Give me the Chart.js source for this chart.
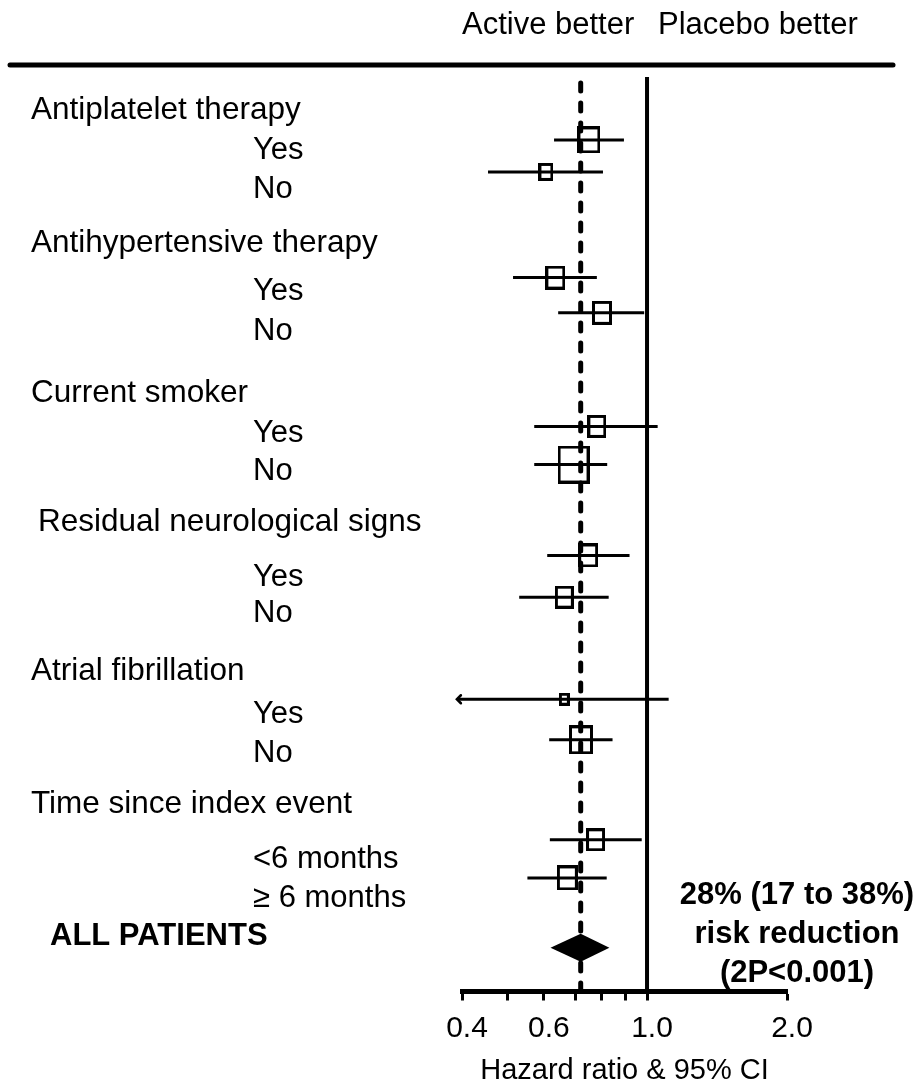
<!DOCTYPE html>
<html>
<head>
<meta charset="utf-8">
<script src="https://cdn.jsdelivr.net/npm/chart.js@4.4.1/dist/chart.umd.min.js"></script>
<style>
  html, body { margin: 0; padding: 0; background: #fff; }
  #wrap { width: 924px; height: 1086px; position: relative; }
</style>
</head>
<body>
<div id="wrap"><canvas id="forest" width="924" height="1086"></canvas></div>
<script>
// ---- Subgroup estimates (hazard ratio with 95% CI) ----
const subgroupNames = [
  'Antiplatelet therapy: Yes', 'Antiplatelet therapy: No',
  'Antihypertensive therapy: Yes', 'Antihypertensive therapy: No',
  'Current smoker: Yes', 'Current smoker: No',
  'Residual neurological signs: Yes', 'Residual neurological signs: No',
  'Atrial fibrillation: Yes', 'Atrial fibrillation: No',
  'Time since index event: <6 months', 'Time since index event: >=6 months'
];
const hazardRatio = [0.750, 0.606, 0.635, 0.800, 0.780, 0.695, 0.747, 0.664, 0.664, 0.721, 0.775, 0.674];
const ciLower     = [0.631, 0.455, 0.515, 0.644, 0.572, 0.572, 0.610, 0.531, 0.390, 0.616, 0.618, 0.553];
const ciUpper     = [0.892, 0.804, 0.780, 0.986, 1.054, 0.821, 0.917, 0.827, 1.113, 0.843, 0.974, 0.819];
// relative weight of each subgroup (drives box size)
const subgroupWeight = [20, 12, 17, 17, 16, 29, 17, 16, 8, 21, 16, 18];
// vertical row of each subgroup estimate
const subgroupRow = [1.75, 2.64, 5.58, 6.56, 9.72, 10.78, 13.31, 14.47, 17.31, 18.44, 21.22, 22.28];

// ---- Overall estimate: 28% (17 to 38%) risk reduction ----
const overallHR = 0.72;
const overallLower = 0.62;
const overallUpper = 0.83;
const overallRow = 24.22;

// ---- Row labels ----
const groupLabels = ['Antiplatelet therapy', 'Antihypertensive therapy', 'Current smoker',
  'Residual neurological signs', 'Atrial fibrillation', 'Time since index event'];
const groupRows = [0.92, 4.62, 8.80, 12.40, 16.52, 20.22];
const levelLabels = ['Yes', 'No', 'Yes', 'No', 'Yes', 'No', 'Yes', 'No', 'Yes', 'No', '<6 months', '\u2265 6 months'];
const levelRows = [2.04, 3.14, 5.97, 7.08, 9.92, 10.96, 13.92, 14.92, 17.74, 18.83, 21.76, 22.84];
const overallLabel = 'ALL PATIENTS';
const overallLabelRow = 23.90;
const summaryLines = ['28% (17 to 38%)', 'risk reduction', '(2P<0.001)'];

// ---- Axis ----
const xTicks = [0.4, 0.5, 0.6, 0.7, 0.8, 0.9, 1.0, 2.0];
const xTickLabels = ['0.4', '', '0.6', '', '', '', '1.0', '2.0'];
const xTitle = 'Hazard ratio & 95% CI';
const headerLeft = 'Active better';
const headerRight = 'Placebo better';

const ROW_MAX = 25.44;
const FONT = "'Liberation Sans', Arial, Helvetica, sans-serif";

// hollow box markers, slightly taller than wide
function makeBox(w) {
  const h = Math.round(w * 1.22);
  const c = document.createElement('canvas');
  c.width = w + 3; c.height = h + 3;
  const g = c.getContext('2d');
  g.strokeStyle = '#000';
  g.lineWidth = 3;
  g.strokeRect(1.5, 1.5, w, h);
  return c;
}
const boxImages = subgroupWeight.map(makeBox);

const datasets = [];
// line of no effect
datasets.push({
  type: 'line', data: [{ x: 1, y: 0 }, { x: 1, y: ROW_MAX }],
  borderColor: '#000', borderWidth: 4, pointRadius: 0, clip: false, order: 5
});
// overall effect (dashed)
datasets.push({
  type: 'line', data: [{ x: overallHR, y: 0.17 }, { x: overallHR, y: ROW_MAX }],
  borderColor: '#000', borderWidth: 5, borderDash: [8, 12], borderCapStyle: 'round',
  pointRadius: 0, clip: false, order: 4
});
// confidence intervals
hazardRatio.forEach((_, i) => {
  datasets.push({
    type: 'line', data: [{ x: ciLower[i], y: subgroupRow[i] }, { x: ciUpper[i], y: subgroupRow[i] }],
    borderColor: '#000', borderWidth: 3, pointRadius: 0, clip: false, order: 3
  });
});
// point estimates
datasets.push({
  type: 'scatter',
  data: hazardRatio.map((v, i) => ({ x: v, y: subgroupRow[i] })),
  pointStyle: ctx => boxImages[ctx.dataIndex],
  pointRadius: 6, clip: false, order: 1
});

const annotate = {
  id: 'annotate',
  afterDatasetsDraw(chart) {
    const { ctx } = chart;
    const xs = chart.scales.x, ys = chart.scales.y;
    ctx.save();

    // arrow for intervals that run past the axis minimum
    ciLower.forEach((lo, i) => {
      if (lo < xs.min) {
        const px = xs.getPixelForValue(lo), py = ys.getPixelForValue(subgroupRow[i]);
        ctx.strokeStyle = '#000'; ctx.lineWidth = 2.5; ctx.lineCap = 'round';
        ctx.beginPath();
        ctx.moveTo(px + 4, py - 4); ctx.lineTo(px, py); ctx.lineTo(px + 4, py + 4);
        ctx.stroke();
      }
    });

    // overall diamond
    const dl = xs.getPixelForValue(overallLower), dr = xs.getPixelForValue(overallUpper);
    const dc = xs.getPixelForValue(overallHR), dy = ys.getPixelForValue(overallRow);
    ctx.fillStyle = '#000';
    ctx.beginPath();
    ctx.moveTo(dl, dy); ctx.lineTo(dc, dy - 14); ctx.lineTo(dr, dy); ctx.lineTo(dc, dy + 14);
    ctx.closePath(); ctx.fill();

    // row labels
    ctx.fillStyle = '#000';
    ctx.textBaseline = 'middle';
    ctx.textAlign = 'left';
    ctx.font = '31.5px ' + FONT;
    groupLabels.forEach((t, i) => {
      const x = t.startsWith('Residual') ? 38 : 31;
      ctx.fillText(t, x, ys.getPixelForValue(groupRows[i]));
    });
    ctx.font = '31px ' + FONT;
    levelLabels.forEach((t, i) => {
      ctx.fillText(t, 253, ys.getPixelForValue(levelRows[i]));
    });
    ctx.font = 'bold 31px ' + FONT;
    ctx.fillText(overallLabel, 50, ys.getPixelForValue(overallLabelRow));

    // summary of overall effect
    ctx.textAlign = 'center';
    ctx.font = 'bold 31px ' + FONT;
    summaryLines.forEach((t, i) => ctx.fillText(t, 797, 895 + i * 39));

    // header band
    ctx.textAlign = 'left';
    ctx.textBaseline = 'alphabetic';
    ctx.font = '31px ' + FONT;
    ctx.fillText(headerLeft, 462, 34);
    ctx.fillText(headerRight, 658, 34);
    ctx.strokeStyle = '#000'; ctx.lineWidth = 5; ctx.lineCap = 'round';
    ctx.beginPath(); ctx.moveTo(10, 65); ctx.lineTo(893, 65); ctx.stroke();

    ctx.restore();
  }
};

new Chart(document.getElementById('forest'), {
  type: 'scatter',
  data: { datasets },
  options: {
    responsive: false,
    animation: false,
    events: [],
    layout: { padding: { left: 462, right: 137, top: 77, bottom: 0 } },
    plugins: { legend: { display: false }, tooltip: { enabled: false } },
    scales: {
      x: {
        type: 'logarithmic', min: 0.4, max: 2.0,
        afterBuildTicks: s => { s.ticks = xTicks.map(v => ({ value: v })); },
        ticks: {
          autoSkip: false, maxRotation: 0, color: '#000', padding: 13, labelOffset: 5,
          font: { family: FONT, size: 30, lineHeight: 1.0 },
          callback: v => { const k = xTicks.findIndex(t => Math.abs(t - v) < 1e-9); return k >= 0 ? xTickLabels[k] : ''; }
        },
        grid: { drawOnChartArea: false, drawTicks: true, tickLength: 9, tickWidth: 3, tickColor: '#000' },
        border: { display: true, width: 5, color: '#000' },
        title: { display: true, text: xTitle, color: '#000', font: { family: FONT, size: 29, lineHeight: 1.0 }, padding: { top: 0, bottom: 0.5 } }
      },
      y: { type: 'linear', min: 0, max: ROW_MAX, reverse: true, display: false }
    }
  },
  plugins: [annotate]
});
</script>
</body>
</html>
